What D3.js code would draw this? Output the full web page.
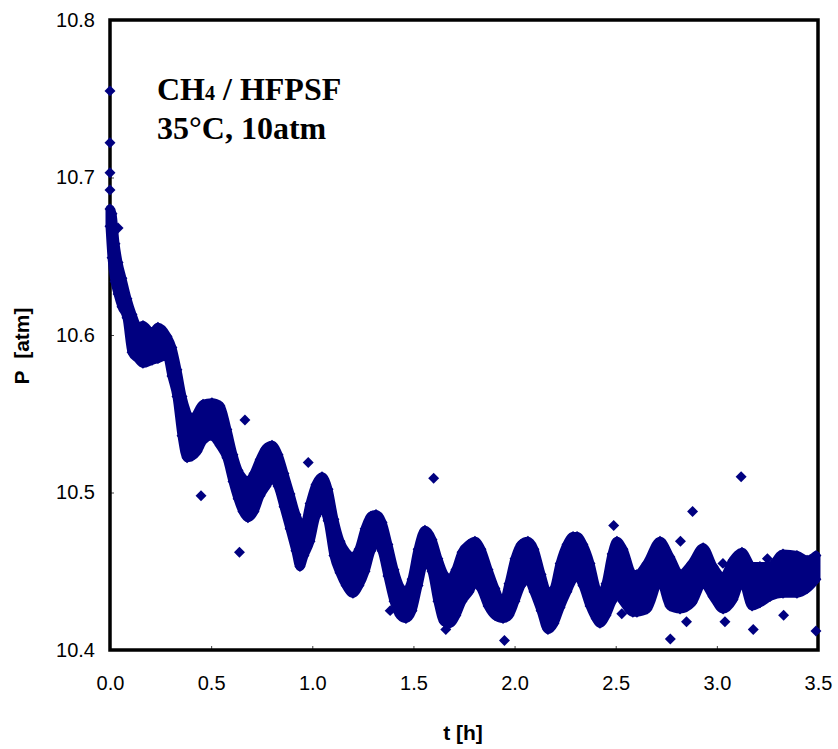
<!DOCTYPE html>
<html><head><meta charset="utf-8">
<script src="https://cdn.jsdelivr.net/npm/d3@7"></script>
<style>body{margin:0;background:#fff} svg{display:block}</style>
</head><body><svg id="c" width="838" height="749"></svg>
<script>
// Envelope of the dense scatter band
const envT = [0.000,0.010,0.025,0.040,0.059,0.084,0.109,0.138,0.163,0.208,0.237,0.282,0.306,0.331,0.356,0.381,0.405,0.430,0.460,0.504,
0.544,0.578,0.608,0.633,0.657,0.682,0.712,0.742,0.771,0.801,0.831,0.860,0.890,0.919,0.939,0.959,0.989,1.018,1.048,1.078,
1.107,1.137,1.167,1.201,1.231,1.261,1.290,1.315,1.345,1.374,1.404,1.434,1.463,1.493,1.523,1.557,1.592,1.621,1.651,1.681,
1.710,1.740,1.775,1.804,1.834,1.869,1.903,1.943,1.972,2.002,2.032,2.066,2.096,2.131,2.165,2.195,2.225,2.259,2.289,2.309,
2.338,2.373,2.403,2.422,2.452,2.482,2.506,2.536,2.585,2.605,2.655,2.719,2.768,2.818,2.877,2.932,2.981,3.031,3.080,3.124,
3.174,3.213,3.263,3.327,3.396,3.446,3.490];
const envHigh = [10.680,10.677,10.658,10.646,10.636,10.623,10.613,10.605,10.606,10.601,10.605,10.599,10.592,10.578,10.561,10.550,10.542,10.550,10.556,10.557,
10.555,10.540,10.524,10.514,10.509,10.507,10.512,10.521,10.528,10.530,10.524,10.512,10.499,10.486,10.480,10.478,10.493,10.505,10.510,10.502,
10.483,10.469,10.462,10.459,10.464,10.477,10.485,10.486,10.481,10.467,10.451,10.440,10.437,10.445,10.464,10.476,10.470,10.458,10.448,10.445,
10.451,10.462,10.467,10.469,10.464,10.451,10.439,10.429,10.442,10.458,10.467,10.469,10.464,10.448,10.436,10.439,10.455,10.467,10.472,10.472,
10.467,10.455,10.439,10.434,10.442,10.461,10.469,10.464,10.448,10.448,10.455,10.469,10.459,10.448,10.455,10.465,10.453,10.446,10.457,10.462,
10.453,10.453,10.453,10.461,10.460,10.457,10.460];
const envLow = [10.669,10.649,10.634,10.626,10.618,10.611,10.589,10.585,10.582,10.584,10.585,10.587,10.574,10.561,10.536,10.522,10.523,10.526,10.533,10.536,
10.530,10.522,10.507,10.496,10.488,10.484,10.488,10.498,10.504,10.509,10.504,10.491,10.477,10.463,10.453,10.460,10.469,10.485,10.490,10.482,
10.460,10.449,10.441,10.436,10.441,10.450,10.463,10.468,10.463,10.447,10.431,10.422,10.420,10.425,10.441,10.457,10.450,10.431,10.418,10.417,
10.422,10.431,10.437,10.443,10.439,10.428,10.422,10.420,10.422,10.431,10.441,10.445,10.437,10.425,10.413,10.417,10.427,10.437,10.445,10.447,
10.441,10.428,10.420,10.417,10.422,10.431,10.436,10.431,10.424,10.424,10.426,10.445,10.428,10.426,10.430,10.443,10.434,10.426,10.432,10.445,
10.428,10.430,10.434,10.436,10.436,10.439,10.445];
// Isolated points
const outT = [0.000,0.000,0.000,0.000,0.040,0.450,0.640,0.667,0.980,1.385,1.600,1.660,1.950,2.490,2.530,2.770,2.820,2.850,2.880,3.030,3.040,3.120,3.180,3.250,3.330,3.490];
const outP = [10.755,10.722,10.703,10.692,10.668,10.498,10.462,10.546,10.519,10.425,10.509,10.413,10.406,10.479,10.423,10.407,10.469,10.418,10.488,10.455,10.418,10.510,10.413,10.458,10.422,10.412];
const xTicks = [0,0.5,1,1.5,2,2.5,3,3.5];
const yTicks = [10.4,10.5,10.6,10.7,10.8];
const xTitle = "t [h]";
const yTitle = "P\u00a0 [atm]";

const svg = d3.select("#c");
const x = d3.scaleLinear().domain([0,3.5]).range([110,818]);
const y = d3.scaleLinear().domain([10.4,10.8]).range([650,20]);
const navy = "#000080";
const sans = "'Liberation Sans', Arial, sans-serif";

const gx = svg.append("g").attr("transform","translate(0,650)")
  .call(d3.axisBottom(x).tickValues(xTicks).tickFormat(d3.format(".1f")).tickSize(-4).tickPadding(26));
const gy = svg.append("g").attr("transform","translate(110,0)")
  .call(d3.axisLeft(y).tickValues(yTicks).tickFormat(d3.format(".1f")).tickSize(-4).tickPadding(15));
[gx,gy].forEach(g=>{
  g.select(".domain").remove();
  g.selectAll(".tick line").attr("stroke","#444").attr("stroke-width",1);
  g.selectAll(".tick text").attr("font-size",20).attr("font-family",sans).attr("fill","#000");
});

svg.append("rect").attr("x",x(0)).attr("y",y(10.8)).attr("width",x(3.5)-x(0)).attr("height",y(10.4)-y(10.8))
  .attr("fill","none").attr("stroke","#000").attr("stroke-width",3.5);

const band = envT.map((t,i)=>({t, hi:envHigh[i], lo:envLow[i]}));
const area = d3.area().x(d=>x(d.t)).y0(d=>y(d.lo)).y1(d=>y(d.hi)).curve(d3.curveMonotoneX);
svg.append("path").datum(band).attr("d",area)
  .attr("fill",navy).attr("stroke",navy).attr("stroke-width",9).attr("stroke-linejoin","round");

const sym = d3.symbol().type(d3.symbolSquare).size(60)();
const pts = [];
band.forEach(d=>{pts.push({t:d.t,p:d.hi});pts.push({t:d.t,p:d.lo});});
outT.forEach((t,i)=>pts.push({t, p:outP[i]}));
svg.append("g").selectAll("path").data(pts).join("path")
  .attr("d",sym).attr("fill",navy)
  .attr("transform",d=>`translate(${x(d.t)},${y(d.p)}) rotate(45)`);

// annotation
const ann = svg.append("g").attr("font-family","'Liberation Serif', 'Times New Roman', serif").attr("font-weight","bold").attr("font-size",32).attr("fill","#000");
const l1 = ann.append("text").attr("x",157).attr("y",100);
l1.append("tspan").text("CH");
l1.append("tspan").attr("font-size",20).text("4");
l1.append("tspan").text(" / HFPSF");
ann.append("text").attr("x",157).attr("y",139).text("35°C, 10atm");

svg.append("text").attr("x",463).attr("y",740).attr("text-anchor","middle")
  .attr("font-family",sans).attr("font-weight","bold").attr("font-size",21).text(xTitle);
svg.append("text").attr("transform","translate(29,346) rotate(-90)").attr("text-anchor","middle")
  .attr("font-family",sans).attr("font-weight","bold").attr("font-size",21).text(yTitle);
</script></body></html>
